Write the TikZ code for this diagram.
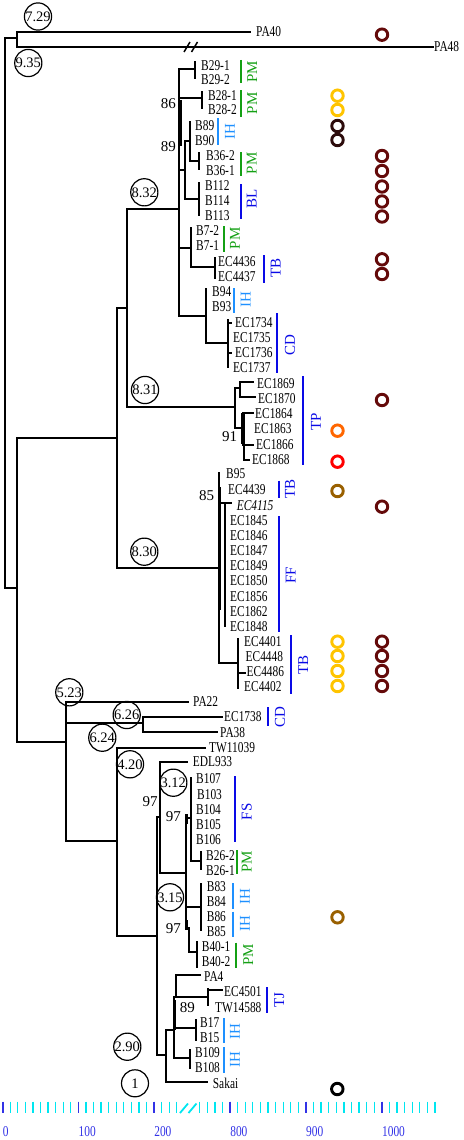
\documentclass[tikz,border=0pt]{standalone}
\usepackage{fontspec}
\usepackage{graphicx}
\setmainfont{Liberation Serif}
\definecolor{pmgreen}{RGB}{20,160,20}
\definecolor{ihblue}{RGB}{30,144,255}
\definecolor{cblue}{RGB}{10,10,230}
\definecolor{maroonc}{RGB}{100,10,10}
\definecolor{yellowc}{RGB}{255,196,0}
\definecolor{darkc}{RGB}{45,12,12}
\definecolor{orangec}{RGB}{255,102,0}
\definecolor{redc}{RGB}{255,0,0}
\definecolor{brownc}{RGB}{153,96,0}
\definecolor{cyanc}{RGB}{0,230,240}
\definecolor{tickblue}{RGB}{50,50,230}
\newcommand\sx[1]{\scalebox{0.76}[1]{#1}}
\begin{document}
\begin{tikzpicture}[x=1pt,y=-1pt,
  tree/.style={line width=1.8pt,line cap=rect},
  thk/.style={line width=3.6pt},
  leaf/.style={anchor=west,inner sep=0pt,font=\fontsize{15}{15}\selectfont},
  rot/.style={rotate=90,inner sep=0pt,font=\fontsize{15}{15}\selectfont},
  cbar/.style={line width=2pt},
  mk/.style={circle,minimum size=11.5pt,inner sep=0pt,line width=2.9pt},
  cnum/.style={circle,draw,line width=1.2pt,minimum size=27pt,inner sep=0pt,font=\fontsize{14.5}{14.5}\selectfont},
  bsv/.style={inner sep=0pt,font=\fontsize{15}{15}\selectfont},
  mintick/.style={cyanc,line width=1.3pt},
  majtick/.style={tickblue,line width=1.8pt},
  scl/.style={anchor=west,inner sep=0pt,text=tickblue,font=\fontsize{15}{15}\selectfont}]
\useasboundingbox (0,0) rectangle (463,1140);

% ---------- backbone ----------
\draw[tree] (17,38)--(5,38)--(5,588)--(17,588);
\draw[tree] (250,32)--(17,32)--(17,47)--(433,47);
\draw[tree] (117,438)--(17,438)--(17,742)--(66,742);
\draw[tree] (127,308)--(117,308)--(117,568)--(219,568);
\draw[tree] (179,209)--(127,209)--(127,407)--(235,407);
% break marks on PA48
\draw[line width=1.5pt] (184,52)--(190,42) (191.5,52)--(197.5,42);

% ---------- clade 8.32 ----------
\draw[tree] (179,69)--(179,316);
\draw[thk] (180,100)--(180,146);
\draw[tree] (179,69)--(195,69) (195,62)--(195,78);
\draw[tree] (179,98)--(202,98) (202,92)--(202,108);
\draw[tree] (179,170)--(185,170) (185,141)--(185,199);
\draw[tree] (185,141)--(190,141) (190,122)--(190,161)--(199,161) (199,153)--(199,169);
\draw[tree] (185,199)--(199,199) (199,183)--(199,215);
\draw[tree] (179,248)--(191,248) (191,228)--(191,267)--(215,267) (215,258)--(215,278);
\draw[tree] (179,316)--(206,316) (206,289)--(206,343)--(228,343) (228,320)--(228,367);
\draw[tree] (228,323)--(231,323) (228,353)--(231,353);

% ---------- clade 8.31 (TP) ----------
\draw[tree] (235,388)--(235,428);
\draw[tree] (235,388)--(240,388) (240,382)--(240,397) (240,382)--(253,382) (240,397)--(255,397);
\draw[tree] (235,428)--(243,428);
\draw[thk] (243,413)--(243,444);
\draw[tree] (243,413)--(253,413) (243,445)--(253,445) (244,444)--(244,460)--(249,460);

% ---------- clade 8.30 ----------
\draw[tree] (219,473)--(219,663);
\draw[thk] (219.5,487)--(219.5,610);
\draw[tree] (219,503)--(231,503) (225,503)--(225,626);
\draw[tree] (219,663)--(238,663) (238,639)--(238,688) (238,673)--(245,673);

% ---------- lower part ----------
\draw[tree] (188,702)--(66,702)--(66,841)--(117,841);
\draw[tree] (66,723)--(143,723) (143,717)--(143,732) (143,717)--(222,717) (143,732)--(217,732);
\draw[tree] (205,748)--(117,748)--(117,936)--(157,936);
\draw[tree] (160,817)--(157,817)--(157,1055)--(166,1055);
\draw[tree] (187,762)--(160,762)--(160,873)--(186,873);
\draw[tree] (191,818)--(186,818)--(186,928)--(189,928)--(189,952)--(197,952);
\draw[thk] (186.5,814)--(186.5,824) (186.5,920)--(186.5,930);
\draw[tree] (191,778)--(191,861)--(201,861) (201,852)--(201,869);
\draw[tree] (186,907)--(201,907) (201,884)--(201,930);
\draw[tree] (197,942)--(197,967);
\draw[tree] (174,1030)--(166,1030)--(166,1082)--(207,1082);
\draw[tree] (174,997)--(174,1058);
\draw[thk] (174.5,1000)--(174.5,1030);
\draw[tree] (200,975)--(176,975)--(176,997);
\draw[tree] (174,997)--(208,997) (208,989)--(208,1005) (208,990)--(222,990);
\draw[tree] (174,1028)--(196,1028) (196,1020)--(196,1040);
\draw[tree] (174,1058)--(190,1058) (190,1050)--(190,1068);

% ---------- leaf labels ----------
\foreach \t/\x/\y in {PA40/256/32,PA48/434/46.5,
 B29-1/201/66,B29-2/201/80,B28-1/208/96,B28-2/208/110,B89/195/126,B90/195/141,
 B36-2/206/156,B36-1/206/171,B112/205/186,B114/205/201,B113/205/216,
 B7-2/196/231,B7-1/196/246,EC4436/218/262,EC4437/218/277,B94/212/292,B93/212/307,
 EC1734/235/323,EC1735/233/338,EC1736/235/353,EC1737/233/368,
 EC1869/257/384,EC1870/258/399,EC1864/255/414,EC1863/254/429,EC1866/256/445,EC1868/252/460,
 B95/226/474,EC4439/228/490,
 EC1845/230/521,EC1846/230/536,EC1847/230/551,EC1849/230/566,EC1850/230/581,EC1856/230/597,EC1862/230/612,EC1848/230/627,
 EC4401/244/642,EC4448/245.5/657,EC4486/246.5/672,EC4402/244/687,
 PA22/193/702,EC1738/224/717,PA38/220/732.5,TW11039/209/748,EDL933/192.7/762,
 B107/196/779,B103/197/795,B104/196/810,B105/196/825,B106/196/840,B26-2/206/856,B26-1/206/871,
 B83/206.7/886.5,B84/206.7/901.5,B86/206.7/916.5,B85/206.7/931.5,B40-1/201.7/946.5,B40-2/201.7/962,
 PA4/204/976.5,EC4501/224/992,TW14588/215/1007.5,B17/200/1022.5,B15/200/1037.5,B109/195/1053,B108/195/1068,
 Sakai/212.7/1083.5}
  \node[leaf] (\t) at (\x,\y) {\sx{\t}};
\node[leaf] (EC4115) at (236.7,505.5) {\sx{\itshape EC4115}};

% ---------- support values ----------
\node[bsv] (s86) at (168.3,103.3) {86};
\node[bsv] (s89a) at (168.3,146.7) {89};
\node[bsv] (s91) at (229.7,436.7) {91};
\node[bsv] (s85) at (206.7,496) {85};
\node[bsv] (s97a) at (150,801.7) {97};
\node[bsv] (s97b) at (173.3,816.7) {97};
\node[bsv] (s97c) at (173.3,928.3) {97};
\node[bsv] (s89b) at (187.3,1007.3) {89};

% ---------- circled numbers ----------
\node[cnum] (c729) at (38,16.5) {7.29};
\node[cnum] (c935) at (28.3,63) {9.35};
\node[cnum] (c832) at (144.3,192.3) {8.32};
\node[cnum] (c831) at (145,390) {8.31};
\node[cnum] (c830) at (144.3,551.7) {8.30};
\node[cnum] (c523) at (69.3,692.3) {5.23};
\node[cnum] (c626) at (126.7,715) {6.26};
\node[cnum] (c624) at (102.3,737.7) {6.24};
\node[cnum] (c420) at (130,764.3) {4.20};
\node[cnum] (c312) at (173.3,782.7) {3.12};
\node[cnum] (c315) at (170,897.3) {3.15};
\node[cnum] (c290) at (127.3,1046.7) {2.90};
\node[cnum] (c1) at (135,1083.3) {1};

% ---------- clade bars and labels ----------
\foreach \n/\x/\ya/\yb/\tx/\ty in {pm1/240.7/60/83.3/252.3/71.7, pm2/240.7/90/116.7/252.3/103.3,
  pm3/240.7/152/176/251.7/163.3, pm4/224/226/251.7/235/238.3, pm5/236.7/850/874/246.7/861.7,
  pm6/236/942.7/968.3/248.3/955}{
  \draw[cbar,pmgreen] (\x,\ya)--(\x,\yb);
  \node[rot,text=pmgreen] (\n) at (\tx,\ty) {PM};}
\foreach \n/\x/\ya/\yb/\tx/\ty in {ih1/218.3/118.3/145/230/131.7, ih2/234/288.3/313.3/245.7/300,
  ih3/233.3/883.3/909.3/245/896.7, ih4/233.3/911.7/936.7/245/923.3,
  ih5/224.3/1018.3/1043.3/235/1031.7, ih6/224.3/1047.3/1073.3/235/1060}{
  \draw[cbar,ihblue] (\x,\ya)--(\x,\yb);
  \node[rot,text=ihblue] (\n) at (\tx,\ty) {IH};}
\foreach \n/\l/\x/\ya/\yb/\tx/\ty in {bl/BL/240.7/184/219.3/251.7/199.3, tb1/TB/264/255/282.7/275.7/268.3,
  cd1/CD/277.3/313.3/372.7/290/345, tp/TP/302.7/376/465/316/421.7, tb2/TB/279/480.7/498.3/290/489.3,
  ff/FF/279/516/631.7/290.7/575, tb3/TB/290.7/635/694/303.3/665, cd2/CD/267.7/707.3/726/280/716.7,
  fs/FS/235/776/842/246.7/811.7, tj/TJ/266.7/987.3/1013.3/279.3/1000}{
  \draw[cbar,cblue] (\x,\ya)--(\x,\yb);
  \node[rot,text=cblue] (\n) at (\tx,\ty) {\l};}

% ---------- markers ----------
\foreach \y [count=\i] in {34.7,156,171,186.5,201.5,216.5,259.3,274,400,506.7,641.7,656,671,686}
  \node[mk,draw=maroonc] (mm\i) at (382,\y) {};
\foreach \y [count=\i] in {95.7,110,641.7,656,671,686}
  \node[mk,draw=yellowc] (my\i) at (337.5,\y) {};
\node[mk,draw=darkc] (md1) at (337.5,126) {};
\node[mk,draw=darkc] (md2) at (337.5,140) {};
\node[mk,draw=orangec] (mo) at (337.5,430.7) {};
\node[mk,draw=redc] (mr) at (337.5,461.7) {};
\node[mk,draw=brownc] (mb1) at (337.5,491) {};
\node[mk,draw=brownc] (mb2) at (337.5,917.3) {};
\node[mk,draw=black] (mk1) at (337.3,1089) {};

% ---------- scale bar ----------
\foreach \k in {0,...,23} \draw[mintick] ({2.7+7.57*\k},1101.7)--++(0,11.6);
\foreach \j in {0,...,31} \draw[mintick] ({199.7+7.59*\j},1101.7)--++(0,11.6);
\foreach \xx in {2.7,78.4,154.1,230.1,306,381.9} \draw[majtick] (\xx,1101.7)--++(0,11.6);
\draw[cyanc,line width=1.8pt] (180,1113)--(188,1103.5) (188.5,1113)--(196.5,1103.5);
\foreach \l/\xx in {0/2.7,100/78.4,200/154.1,800/230.1,900/306,1000/381.9}
  \node[scl] (sc\l) at (\xx,1131.7) {\sx{\l}};
\end{tikzpicture}
\end{document}
